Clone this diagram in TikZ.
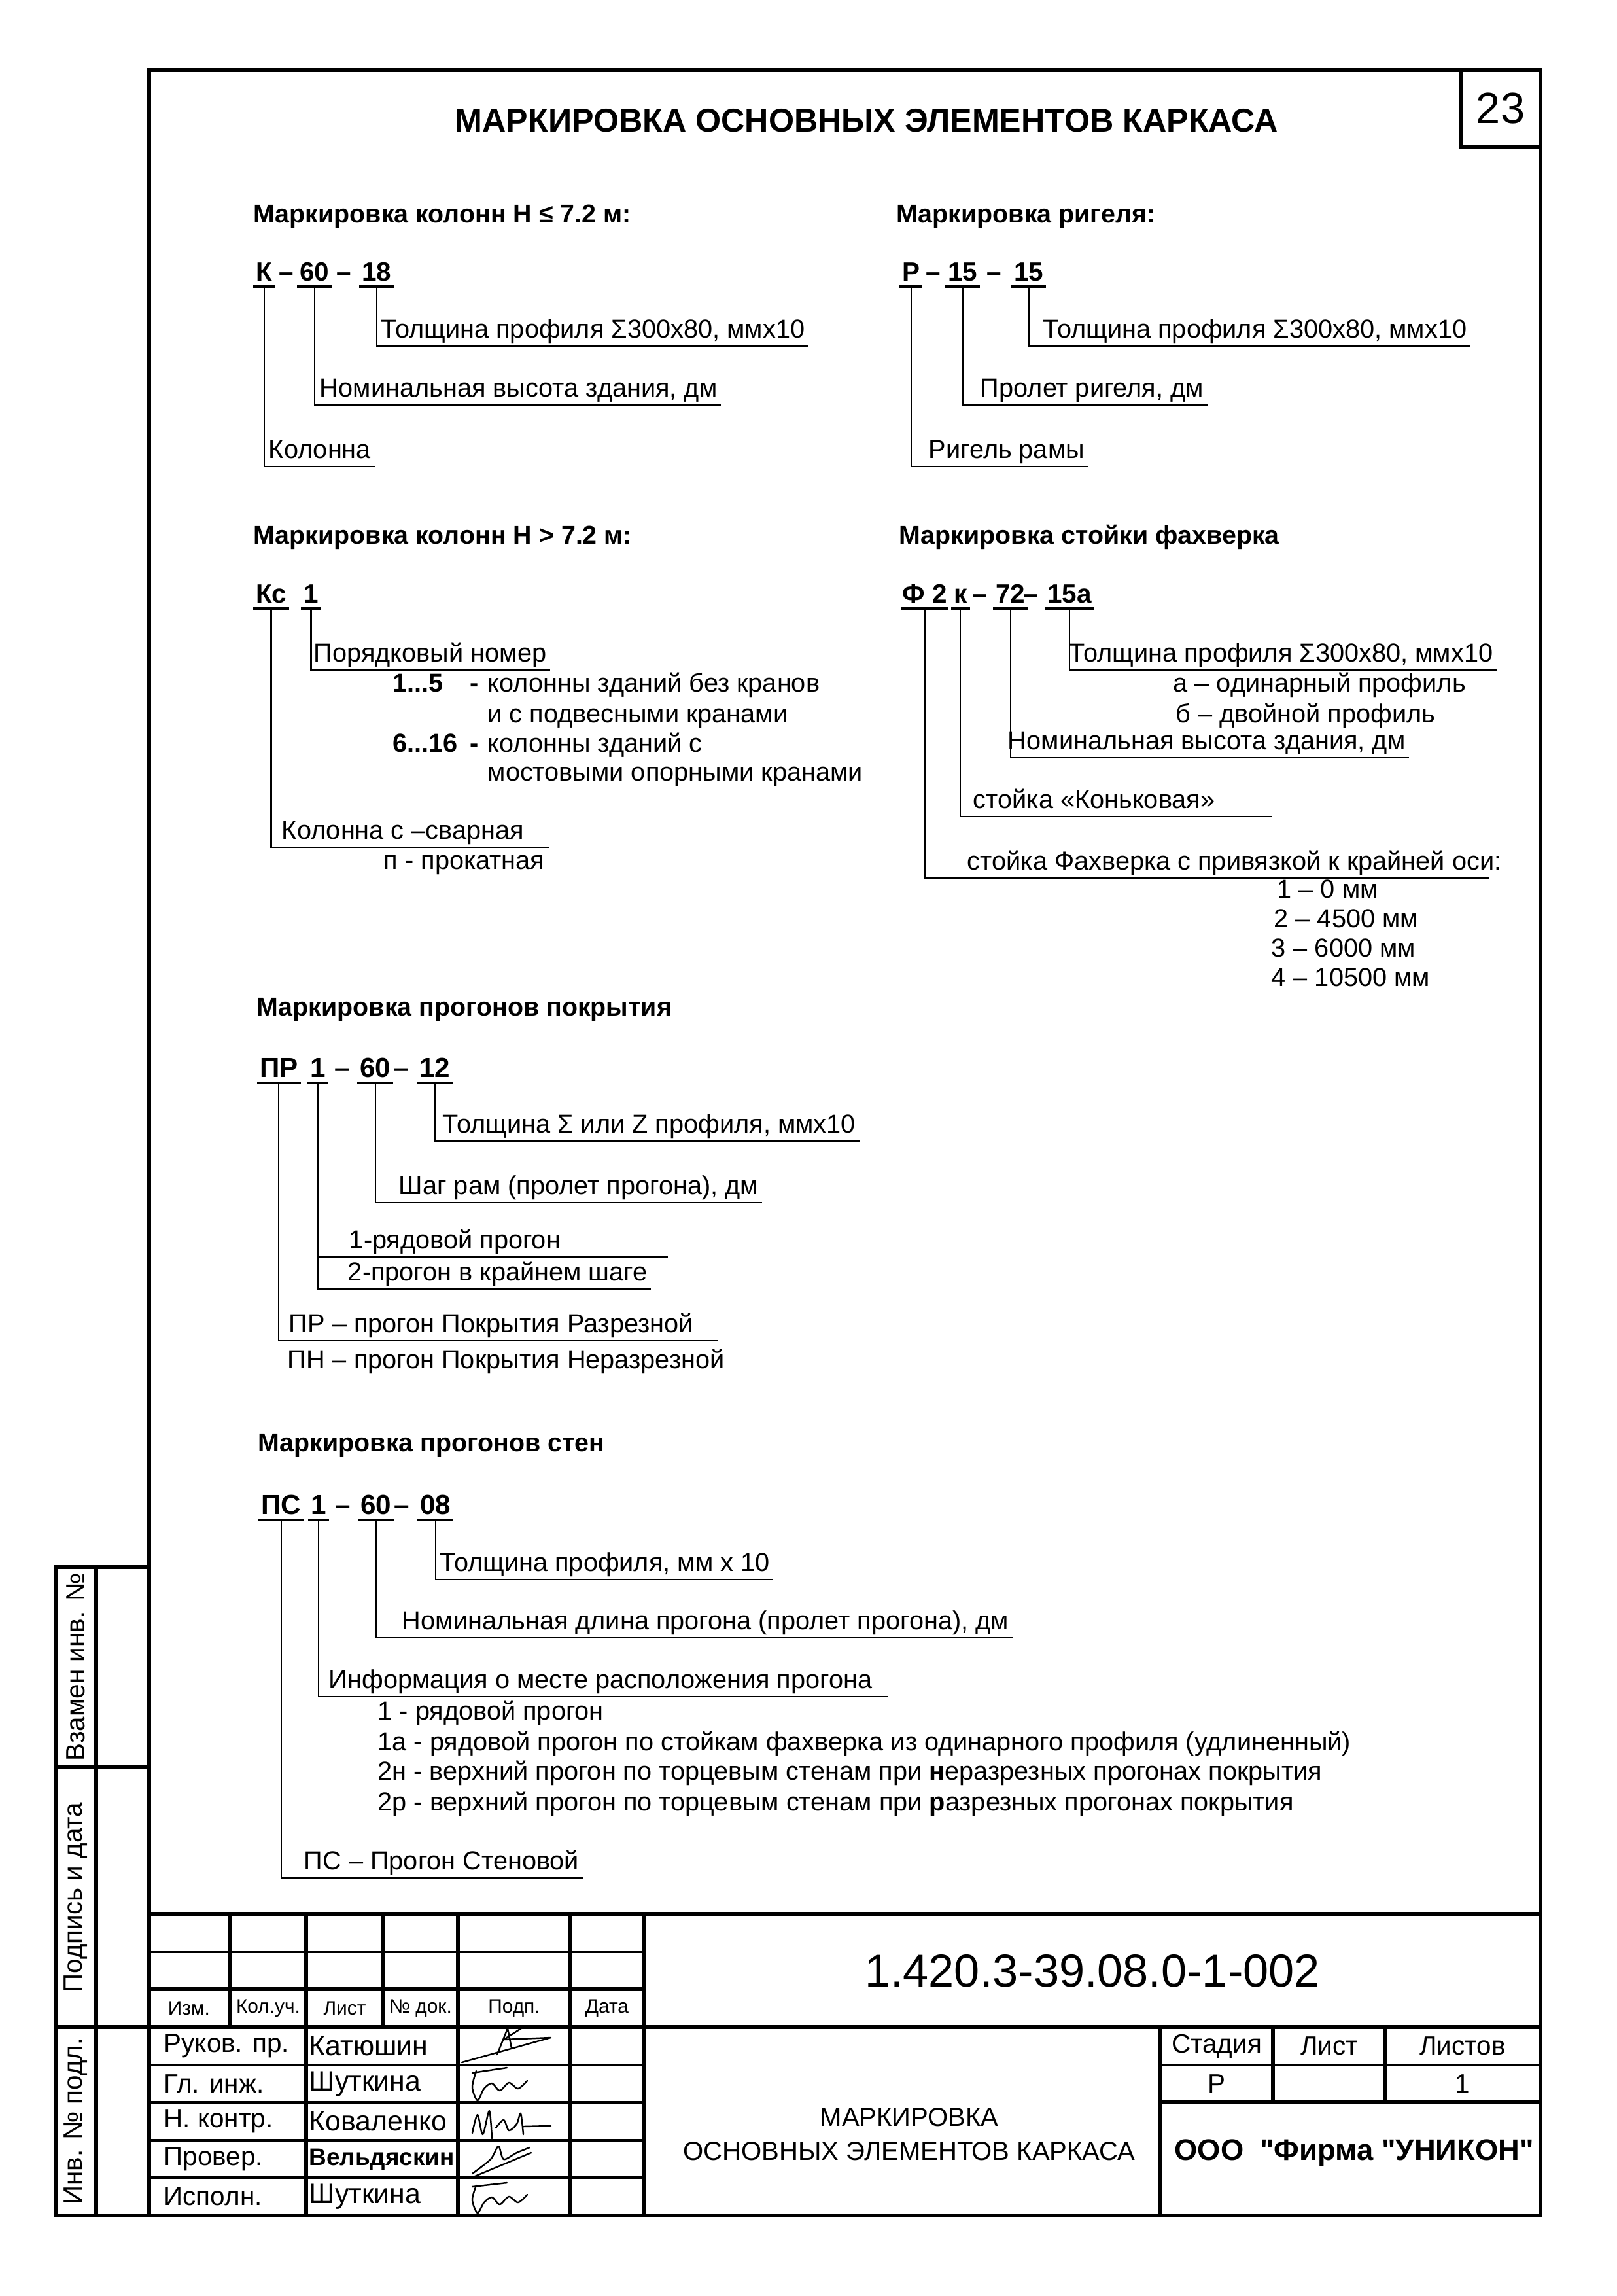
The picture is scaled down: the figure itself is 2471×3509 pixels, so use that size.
\documentclass[tikz,border=0pt]{standalone}
\usepackage{fontspec}
\setmainfont{Liberation Sans}[Ligatures=TeXOff]
\usetikzlibrary{positioning, calc}
\tikzstyle{head}      = [anchor=base west, inner sep=0pt, font=\fontsize{11.2}{13}\selectfont\bfseries]
\tikzstyle{codepart}  = [anchor=base west, inner xsep=1pt, inner ysep=2.4pt, text depth=0pt,
                         font=\fontsize{11.5}{13}\selectfont\bfseries]
\tikzstyle{bigpart}   = [codepart, font=\fontsize{12}{14}\selectfont\bfseries]
\tikzstyle{dashpart}  = [anchor=base, inner sep=0pt, font=\fontsize{11.5}{13}\selectfont\bfseries]
\tikzstyle{note}      = [anchor=base west, inner xsep=1.5pt, inner ysep=0.8pt, text depth=2.6pt,
                         font=\fontsize{11.3}{13}\selectfont]
\tikzstyle{txt}       = [anchor=base west, inner sep=0pt, font=\fontsize{11.3}{13}\selectfont]
\tikzstyle{lead}      = [line width=0.6pt]
\tikzstyle{uline}     = [line width=1.3pt]
\tikzstyle{frameline} = [line width=1.6pt]
\tikzstyle{rowline}   = [line width=0.9pt]
\tikzstyle{cell}      = [inner sep=0pt, font=\fontsize{11.5}{13}\selectfont]
\tikzstyle{namecell}  = [inner sep=0pt, anchor=west, font=\fontsize{12.2}{14}\selectfont]
\tikzstyle{smallcell} = [inner sep=0pt, font=\fontsize{8.5}{10}\selectfont]
\tikzstyle{sig}       = [line width=0.7pt, line cap=round, line join=round]

\begin{document}
\begin{tikzpicture}[x=0.1mm, y=-0.1mm]
  \fill [white] (0,0) rectangle (2471,3509);

  % Sheet frame
  \draw [frameline] (228,107) rectangle (2355,3386);
  \draw [frameline] (2234,107) -- (2234,224) -- (2355,224);
  \node (pg)    [font=\fontsize{19}{21}\selectfont] at (2294,166) {23};
  \node (title) [font=\fontsize{14.3}{16}\selectfont\bfseries] at (1325,184)
                {МАРКИРОВКА ОСНОВНЫХ ЭЛЕМЕНТОВ КАРКАСА};

  % Columns H <= 7.2
  \node (h1)  [head]     at (387,340) {Маркировка колонн H ≤ 7.2 м:};
  \node (k1)  [codepart] at (387,429) {К};
  \node (kd1) [dashpart] at (438,429) {–};
  \node (k2)  [codepart] at (454,429) {60};
  \node (kd2) [dashpart] at (526,429) {–};
  \node (k3)  [codepart] at (549,429) {18};
  \node (kt1) [note] at (405,700) {Колонна};
  \node (kt2) [note] at (483,606) {Номинальная высота здания, дм};
  \node (kt3) [note] at (577,516) {Толщина профиля Σ300x80, ммx10};

  % Girder
  \node (h2)  [head]     at (1370,340) {Маркировка ригеля:};
  \node (r1)  [codepart] at (1375,429) {Р};
  \node (rd1) [dashpart] at (1427,429) {–};
  \node (r2)  [codepart] at (1445,429) {15};
  \node (rd2) [dashpart] at (1520,429) {–};
  \node (r3)  [codepart] at (1546,429) {15};
  \node (rt1) [note] at (1414,700) {Ригель рамы};
  \node (rt2) [note] at (1493,606) {Пролет ригеля, дм};
  \node (rt3) [note] at (1589,516) {Толщина профиля Σ300x80, ммx10};

  % Columns H > 7.2
  \node (h3)  [head]     at (387,831) {Маркировка колонн H > 7.2 м:};
  \node (c1)  [codepart] at (387,921) {Кс};
  \node (c2)  [codepart] at (460,921) {1};
  \node (ct2) [note] at (474,1011) {Порядковый номер};
  \node (cn1) [txt, font=\fontsize{11.3}{13}\selectfont\bfseries] at (600,1057) {1...5};
  \node (cm1) [txt, font=\fontsize{11.3}{13}\selectfont\bfseries] at (718,1057) {-};
  \node (cl1) [txt] at (745,1057) {колонны зданий без кранов};
  \node (cl2) [txt] at (745,1104) {и с подвесными кранами};
  \node (cn2) [txt, font=\fontsize{11.3}{13}\selectfont\bfseries] at (600,1149) {6...16};
  \node (cm2) [txt, font=\fontsize{11.3}{13}\selectfont\bfseries] at (718,1149) {-};
  \node (cl3) [txt] at (745,1149) {колонны зданий с};
  \node (cl4) [txt] at (745,1193) {мостовыми опорными кранами};
  \node (ct1) [note] at (425,1282) {Колонна с –сварная};
  \node (ct1b) [txt] at (586,1328) {п - прокатная};

  % Wind post
  \node (h4)  [head]     at (1374,831) {Маркировка стойки фахверка};
  \node (f1)  [codepart, inner xsep=0.5pt] at (1377,921) {Ф 2};
  \node (f2)  [codepart] at (1454,921) {к};
  \node (fd1) [dashpart] at (1498,921) {–};
  \node (f3)  [codepart] at (1518,921) {72};
  \node (fd2) [dashpart] at (1576,921) {–};
  \node (f4)  [codepart] at (1597,921) {15а};
  \node (ft4) [note] at (1629,1011) {Толщина профиля Σ300x80, ммx10};
  \node (fa)  [txt]  at (1793,1057) {а – одинарный профиль};
  \node (fb)  [txt]  at (1797,1104) {б – двойной профиль};
  \node (ft3) [note] at (1535,1145) {Номинальная высота здания, дм};
  \node (ft2) [note] at (1482,1235) {стойка «Коньковая»};
  \node (ft1) [note] at (1473,1329) {стойка Фахверка с привязкой к крайней оси:};
  \node (fo1) [txt]  at (1952,1372) {1 – 0 мм};
  \node (fo2) [txt]  at (1947,1417) {2 – 4500 мм};
  \node (fo3) [txt]  at (1943,1462) {3 – 6000 мм};
  \node (fo4) [txt]  at (1943,1507) {4 – 10500 мм};

  % Roof purlins
  \node (h5)  [head]    at (392,1552) {Маркировка прогонов покрытия};
  \node (p1)  [bigpart] at (393,1646) {ПР};
  \node (p2)  [bigpart] at (470,1646) {1};
  \node (pd1) [dashpart, font=\fontsize{12}{14}\selectfont\bfseries] at (523,1646) {–};
  \node (p3)  [bigpart] at (546,1646) {60};
  \node (pd2) [dashpart, font=\fontsize{12}{14}\selectfont\bfseries] at (613,1646) {–};
  \node (p4)  [bigpart] at (637,1646) {12};
  \node (pt4) [note] at (671,1731) {Толщина Σ или Z профиля, ммx10};
  \node (pt3) [note] at (604,1825) {Шаг рам (пролет прогона), дм};
  \node (pt2a) [note] at (528,1908) {1-рядовой прогон};
  \node (pt2b) [note] at (526,1957) {2-прогон в крайнем шаге};
  \node (pt1) [note] at (436,2036) {ПР – прогон Покрытия Разрезной};
  \node (pt1b) [txt] at (439,2091) {ПН – прогон Покрытия Неразрезной};

  % Wall purlins
  \node (h6)  [head]    at (394,2218) {Маркировка прогонов стен};
  \node (w1)  [bigpart] at (395,2314) {ПС};
  \node (w2)  [bigpart] at (471,2314) {1};
  \node (wd1) [dashpart, font=\fontsize{12}{14}\selectfont\bfseries] at (524,2314) {–};
  \node (w3)  [bigpart] at (547,2314) {60};
  \node (wd2) [dashpart, font=\fontsize{12}{14}\selectfont\bfseries] at (614,2314) {–};
  \node (w4)  [bigpart] at (638,2314) {08};
  \node (wt4) [note] at (667,2401) {Толщина профиля, мм х 10};
  \node (wt3) [note] at (609,2490) {Номинальная длина прогона (пролет прогона), дм};
  \node (wt2) [note] at (497,2580) {Информация о месте расположения прогона};
  \node (wl1) [txt]  at (577,2628) {1 - рядовой прогон};
  \node (wl2) [txt]  at (577,2675) {1а - рядовой прогон по стойкам фахверка из одинарного профиля (удлиненный)};
  \node (wl3) [txt]  at (577,2720) {2н - верхний прогон по торцевым стенам при \textbf{н}еразрезных прогонах покрытия};
  \node (wl4) [txt]  at (577,2767) {2р - верхний прогон по торцевым стенам при \textbf{р}азрезных прогонах покрытия};
  \node (wt1) [note] at (459,2857) {ПС – Прогон Стеновой};

  % Underlines of the code parts
  \foreach \n in {k1,k2,k3,r1,r2,r3,c1,c2,f1,f2,f3,f4,p1,p2,p3,p4,w1,w2,w3,w4}
    \draw [uline] (\n.south west) -- (\n.south east);

  % Leaders
  \draw [lead] (k1.south) |- (kt1.south east);
  \draw [lead] (k2.south) |- (kt2.south east);
  \draw [lead] (k3.south) |- (kt3.south east);
  \draw [lead] (r1.south) |- (rt1.south east);
  \draw [lead] (r2.south) |- (rt2.south east);
  \draw [lead] (r3.south) |- (rt3.south east);
  \draw [lead] (c1.south) |- ([xshift=9pt]ct1.south east);
  \draw [lead] (c2.south) |- (ct2.south east);
  \draw [lead] (f1.south) |- ([xshift=-7pt]ft1.south east);
  \draw [lead] (f2.south) |- ([xshift=23pt]ft2.south east);
  \draw [lead] (f3.south) |- (ft3.south east);
  \draw [lead] (f4.south) |- (ft4.south east);
  \draw [lead] (p1.south) |- ([xshift=9pt]pt1.south east);
  \draw [lead] (p2.south) |- (pt2b.south east);
  \draw [lead] (p2.south |- pt2a.south) -- ([xshift=45pt]pt2a.south east);
  \draw [lead] (p3.south) |- (pt3.south east);
  \draw [lead] (p4.south) |- (pt4.south east);
  \draw [lead] (w1.south) |- (wt1.south east);
  \draw [lead] (w2.south) |- ([xshift=5pt]wt2.south east);
  \draw [lead] (w3.south) |- (wt3.south east);
  \draw [lead] (w4.south) |- (wt4.south east);

  % Side strip
  \draw [frameline] (85,2395) rectangle (228,3386);
  \draw [frameline] (147,2395) -- (147,3386);
  \draw [frameline] (85,2701) -- (228,2701);
  \draw [frameline] (85,3098) -- (228,3098);
  \node (vzam) [cell, rotate=90] at (116,2548) {Взамен инв. №};
  \node (podd) [cell, rotate=90] at (116,2900) {Подпись и дата};
  \node (invp) [cell, rotate=90] at (116,3242) {Инв. № подл.};

  % Title block
  \draw [frameline] (228,2925) -- (2355,2925);
  \draw [frameline] (228,3040) -- (985,3040);
  \draw [frameline] (228,3098) -- (2355,3098);
  \foreach \y in {2983,3156,3213,3271,3328}
    \draw [rowline] (228,\y) -- (985,\y);
  \foreach \x in {351,586}
    \draw [frameline] (\x,2925) -- (\x,3098);
  \foreach \x in {468,700,871,985}
    \draw [frameline] (\x,2925) -- (\x,3386);
  \draw [frameline] (1774,3098) -- (1774,3386);
  \draw [rowline]   (1774,3156) -- (2355,3156);
  \draw [frameline] (1774,3213) -- (2355,3213);
  \foreach \x in {1946,2118}
    \draw [frameline] (\x,3098) -- (\x,3213);

  \node (izm)  [smallcell] at (289,3069) {Изм.};
  \node (kolu) [smallcell] at (410,3069) {Кол.уч.};
  \node (lst)  [smallcell] at (527,3069) {Лист};
  \node (ndok) [smallcell] at (643,3069) {№ док.};
  \node (podp) [smallcell] at (786,3069) {Подп.};
  \node (dat)  [smallcell] at (928,3069) {Дата};

  \node (role1) [cell, anchor=west] at (250,3127) {Руков. пр.};
  \node (role2) [cell, anchor=west] at (250,3185) {Гл. инж.};
  \node (role3) [cell, anchor=west] at (250,3242) {Н. контр.};
  \node (role4) [cell, anchor=west] at (250,3300) {Провер.};
  \node (role5) [cell, anchor=west] at (250,3357) {Исполн.};
  \node (nm1) [namecell] at (472,3127) {Катюшин};
  \node (nm2) [namecell] at (472,3185) {Шуткина};
  \node (nm3) [namecell] at (472,3242) {Коваленко};
  \node (nm4) [namecell, font=\fontsize{10.5}{12}\selectfont\bfseries] at (472,3300) {Вельдяскин};
  \node (nm5) [namecell] at (472,3357) {Шуткина};

  % Signatures
  \draw [sig] (706,3152) -- (842,3114) -- (770,3117) -- (800,3098);
  \draw [sig] (760,3140) -- (776,3100) -- (782,3130);
  \draw [sig] plot [smooth] coordinates {(728,3165) (722,3190) (730,3210) (740,3192) (752,3184) (764,3195) (778,3183) (792,3192) (806,3180)};
  \draw [sig] (722,3168) -- (775,3160);
  \draw [sig] plot [smooth] coordinates {(722,3260) (730,3232) (738,3262) (748,3226) (752,3268)};
  \draw [sig] plot [smooth] coordinates {(758,3252) (770,3240) (778,3256) (790,3246) (796,3230) (800,3262)};
  \draw [sig] (800,3250) -- (842,3249);
  \draw [sig] plot [smooth] coordinates {(722,3322) (750,3300) (762,3280) (770,3300) (790,3290) (810,3282)};
  \draw [sig] (726,3326) -- (812,3290);
  \draw [sig] plot [smooth] coordinates {(728,3340) (722,3362) (730,3382) (740,3366) (752,3358) (764,3369) (778,3357) (792,3366) (806,3354)};
  \draw [sig] (722,3342) -- (775,3336);

  \node (cipher) [font=\fontsize{20}{22}\selectfont] at (1670,3012) {1.420.3-39.08.0-1-002};
  \node (sheet)  [align=center, font=\fontsize{11.4}{14.8}\selectfont] at (1390,3262)
                 {МАРКИРОВКА\\ОСНОВНЫХ ЭЛЕМЕНТОВ КАРКАСА};
  \node (stg)   [cell] at (1860,3127) {Стадия};
  \node (shl)   [cell] at (2032,3127) {Лист};
  \node (shs)   [cell] at (2236,3127) {Листов};
  \node (stgv)  [cell] at (1860,3185) {Р};
  \node (shsv)  [cell] at (2236,3185) {1};
  \node (firm)  [font=\fontsize{12.9}{14}\selectfont\bfseries] at (2070,3290) {ООО~~"Фирма "УНИКОН"};
\end{tikzpicture}
\end{document}
